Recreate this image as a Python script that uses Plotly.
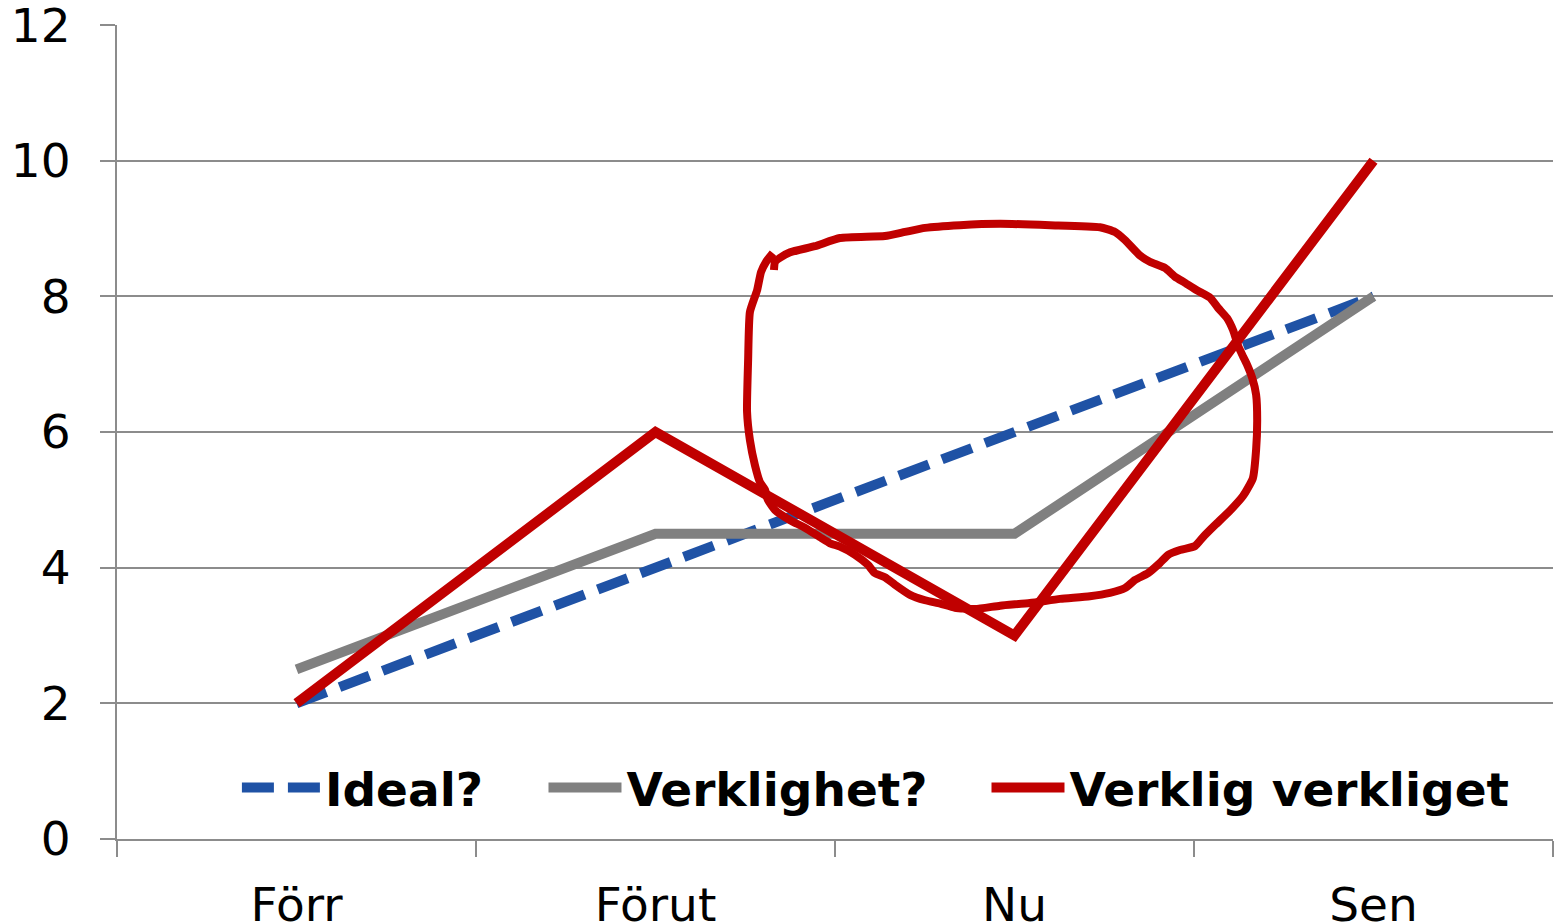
import plotly.graph_objects as go

categories = ["Förr", "Förut", "Nu", "Sen"]
ideal = [2, 4, 6, 8]
verklighet = [2.5, 4.5, 4.5, 8]
verklig = [2, 6, 3, 10]

# freehand loop drawn over the chart, in data units (x = category index)
loop_x = [1.327, 1.308, 1.294, 1.283, 1.263, 1.258, 1.255, 1.263, 1.277, 1.291,
          1.305, 1.313, 1.333, 1.375, 1.416, 1.458, 1.486, 1.514, 1.556, 1.592,
          1.611, 1.639, 1.667, 1.709, 1.751, 1.793, 1.834, 1.890, 1.960, 2.043,
          2.127, 2.210, 2.266, 2.308, 2.336, 2.372, 2.405, 2.428, 2.461, 2.503,
          2.525, 2.559, 2.600, 2.637, 2.664, 2.673, 2.676, 2.673, 2.662, 2.648,
          2.637, 2.623, 2.609, 2.592, 2.567, 2.545, 2.508, 2.475, 2.447, 2.419,
          2.377, 2.350, 2.308, 2.280, 2.238, 2.099, 1.960, 1.848, 1.751, 1.695,
          1.639, 1.514, 1.444, 1.375, 1.347, 1.333, 1.330]
loop_y = [8.64, 8.51, 8.36, 8.09, 7.77, 7.06, 6.30, 5.88, 5.51, 5.26,
          5.15, 5.00, 4.85, 4.70, 4.59, 4.45, 4.36, 4.31, 4.19, 4.04,
          3.92, 3.86, 3.75, 3.60, 3.52, 3.47, 3.41, 3.39, 3.44, 3.48,
          3.54, 3.58, 3.63, 3.70, 3.82, 3.92, 4.07, 4.19, 4.26, 4.32,
          4.45, 4.63, 4.84, 5.06, 5.32, 5.74, 6.18, 6.55, 6.80, 6.99,
          7.11, 7.27, 7.50, 7.68, 7.83, 7.98, 8.09, 8.20, 8.29, 8.42,
          8.51, 8.60, 8.83, 8.95, 9.02, 9.05, 9.07, 9.05, 9.01, 8.95,
          8.89, 8.86, 8.74, 8.65, 8.57, 8.51, 8.39]

x_pos = list(range(len(categories)))

BLUE = "#1F52A5"
GRAY = "#808080"
RED = "#C00000"
AXIS = "#8C8C8C"
FONT = "DejaVu Sans"
LEG_FONT = dict(family=FONT, size=47, color="black", weight="bold")

fig = go.Figure()
fig.add_trace(go.Scatter(x=x_pos, y=ideal, mode="lines", name="Ideal?", legend="legend",
                         line=dict(color=BLUE, width=10, dash="32px,14px")))
fig.add_trace(go.Scatter(x=x_pos, y=verklighet, mode="lines", name="Verklighet?", legend="legend2",
                         line=dict(color=GRAY, width=10)))
fig.add_trace(go.Scatter(x=x_pos, y=verklig, mode="lines", name="Verklig verkliget", legend="legend3",
                         line=dict(color=RED, width=10)))
fig.add_trace(go.Scatter(x=loop_x, y=loop_y, mode="lines", showlegend=False,
                         line=dict(color=RED, width=8, shape="spline", smoothing=0.5),
                         hoverinfo="skip"))

leg_common = dict(orientation="h", y=0.0627, yanchor="middle", xanchor="left",
                  font=LEG_FONT, bgcolor="rgba(0,0,0,0)")

fig.update_layout(
    width=1560, height=924,
    margin=dict(l=117, r=7, t=25, b=85),
    paper_bgcolor="white", plot_bgcolor="white",
    font=dict(family=FONT, size=46, color="black"),
    showlegend=True,
    legend=dict(x=0.0835, itemwidth=78, **leg_common),
    legend2=dict(x=0.2970, itemwidth=73, **leg_common),
    legend3=dict(x=0.6055, itemwidth=73, **leg_common),
)
fig.update_xaxes(
    range=[-0.5, 3.5], tickmode="array", tickvals=x_pos, ticktext=categories,
    ticks="", showgrid=False, zeroline=False, automargin=False,
    showline=True, linecolor=AXIS, linewidth=2,
    ticklabelstandoff=24,
    tickfont=dict(family=FONT, size=47, color="black"),
    minor=dict(tickmode="linear", tick0=-0.5, dtick=1, ticks="outside",
               ticklen=16, tickwidth=2, tickcolor=AXIS, showgrid=False),
)
fig.update_yaxes(
    range=[0, 12.001], tickmode="array", tickvals=[0, 2, 4, 6, 8, 10, 12],
    showgrid=True, gridcolor=AXIS, gridwidth=2, zeroline=False, automargin=False,
    showline=True, linecolor=AXIS, linewidth=2,
    ticks="outside", ticklen=15, tickwidth=2, tickcolor=AXIS,
    ticklabelstandoff=20, ticklabeloverflow="allow",
    tickfont=dict(family=FONT, size=47, color="black"),
)

fig.write_html("out.html", config={"displayModeBar": False},
               post_script="document.body.style.margin='0';")
